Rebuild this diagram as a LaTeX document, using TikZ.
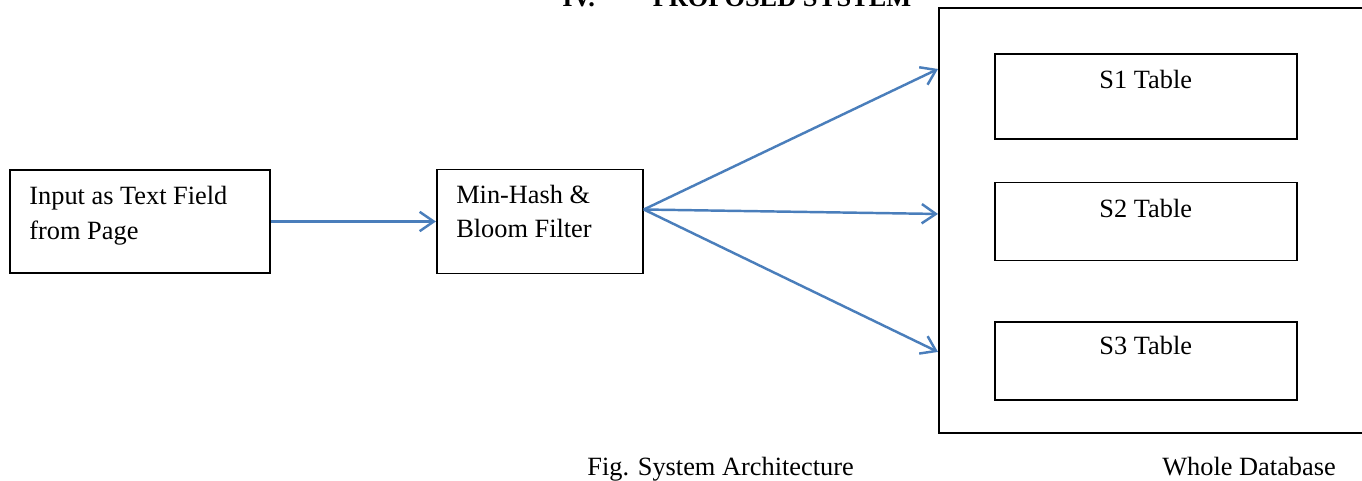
\documentclass[tikz,border=0pt]{standalone}
\usepackage{fontspec}
\setmainfont{Liberation Serif}
\usetikzlibrary{arrows.meta,positioning}
\definecolor{lineblue}{HTML}{4A7EBB}
\tikzset{
  box/.style={draw=black, line width=1.1pt, inner sep=0pt},
  tablebox/.style={box, line width=0.9pt, minimum width=6.04cm},
  txt/.style={font=\fontsize{15}{19.8}\selectfont, inner sep=0pt, align=left},
  arr/.style={-{Straight Barb[length=8pt,width=11pt]}, draw=lineblue, line width=1.4pt}
}
\begin{document}
\begin{tikzpicture}[x=0.02cm, y=-0.02cm]

  % page frame -- heading runs off the top edge
  \clip (0,0) rectangle (1362,480);
  \node[txt, font={\fontsize{15}{19.8}\selectfont\bfseries}, anchor=base west] (heading) at (562,7)
    {IV.\hspace{33pt}PROPOSED SYSTEM};

  % input and hashing stage
  \node[box, minimum width=5.2cm, minimum height=2.06cm] (input) at (140,221.5) {};
  \node[txt, anchor=north west] (inputtxt) at ([xshift=0.4cm, yshift=-0.34cm]input.north west)
    {Input as Text Field\\from Page};

  \node[box, right=3.3cm of input, minimum width=4.12cm, minimum height=2.08cm] (minhash) {};
  \node[txt, anchor=north west] (minhashtxt) at ([xshift=0.4cm, yshift=-0.32cm]minhash.north west)
    {Min-Hash \&\\Bloom Filter};

  \draw[arr] (input.east) -- (minhash.west);

  % database with the three tables
  \node[box, anchor=north west, minimum width=9.24cm, minimum height=8.5cm] (db) at (938,7) {};

  \node[tablebox, minimum height=1.7cm, below right=0.92cm and 1.12cm of db.north west] (s1) {};
  \node[tablebox, minimum height=1.56cm, below=0.84cm of s1] (s2) {};
  \node[tablebox, minimum height=1.56cm, below=1.2cm of s2] (s3) {};

  \node[txt, anchor=north] (s1txt) at ([yshift=-0.34cm]s1.north) {S1 Table};
  \node[txt, anchor=north] (s2txt) at ([yshift=-0.34cm]s2.north) {S2 Table};
  \node[txt, anchor=north] (s3txt) at ([yshift=-0.30cm]s3.north) {S3 Table};

  % fan out from the filter into the database
  \coordinate (fan) at ([yshift=0.24cm]minhash.east);
  \coordinate (in1) at ([yshift=-1.24cm]db.north west);
  \coordinate (in2) at ([yshift=-4.14cm]db.north west);
  \coordinate (in3) at ([yshift=-6.9cm]db.north west);
  \draw[arr] (fan) -- (in1);
  \draw[arr] (fan) -- (in2);
  \draw[arr] (fan) -- (in3);

  % captions
  \node[txt, anchor=base west] (caption) at (587,475) {Fig. System Architecture};
  \node[txt, anchor=base west] (dblabel) at (1162,475) {Whole Database};

\end{tikzpicture}
\end{document}
